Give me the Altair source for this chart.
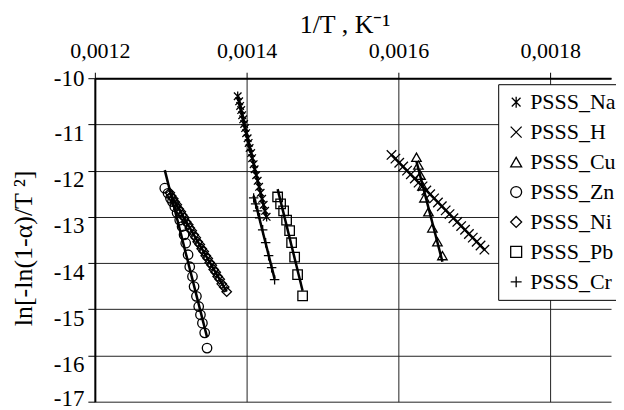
import altair as alt
import pandas as pd

series_order = ["PSSS_Na", "PSSS_H", "PSSS_Cu", "PSSS_Zn", "PSSS_Ni", "PSSS_Pb", "PSSS_Cr"]
shape_paths = [
    "M-0.8,-0.8L0.8,0.8M-0.8,0.8L0.8,-0.8M0,-1L0,1",
    "M-1,-1L1,1M-1,1L1,-1",
    "triangle-up",
    "circle",
    "diamond",
    "square",
    "M-1,0L1,0M0,-1L0,1",
]

na_x = [0.0013882, 0.0013901, 0.0013914, 0.0013928, 0.0013941, 0.0013954, 0.0013967, 0.0013980,
        0.0013993, 0.0014013, 0.0014026, 0.0014039, 0.0014059, 0.0014072, 0.0014092, 0.0014105,
        0.0014125, 0.0014145, 0.0014164, 0.0014184, 0.0014204, 0.0014224, 0.0014243, 0.0014263]
na_y = [-10.39, -10.50, -10.60, -10.69, -10.80, -10.89, -10.99, -11.08,
        -11.19, -11.30, -11.40, -11.51, -11.62, -11.73, -11.86, -11.97,
        -12.10, -12.22, -12.35, -12.48, -12.61, -12.74, -12.87, -13.00]

h_x = [0.0015908, 0.0015960, 0.0016010, 0.0016062, 0.0016113, 0.0016163, 0.0016215, 0.0016265,
       0.0016317, 0.0016367, 0.0016418, 0.0016469, 0.0016520, 0.0016571, 0.0016622, 0.0016673,
       0.0016724, 0.0016775, 0.0016826, 0.0016877, 0.0016928, 0.0016979, 0.0017030, 0.0017081,
       0.0017132]
h_y = [-11.66, -11.74, -11.83, -11.91, -12.00, -12.08, -12.17, -12.26,
       -12.34, -12.43, -12.51, -12.60, -12.69, -12.77, -12.86, -12.94,
       -13.03, -13.11, -13.20, -13.28, -13.37, -13.45, -13.54, -13.62,
       -13.71]

cu_x = [0.0016237, 0.0016263, 0.0016290, 0.0016316, 0.0016342, 0.0016395, 0.0016447, 0.0016513, 0.0016579]
cu_y = [-11.71, -11.88, -12.10, -12.33, -12.59, -12.89, -13.24, -13.54, -13.84]

zn_x = [0.0012921, 0.0012964, 0.0012996, 0.0013022, 0.0013053, 0.0013083, 0.0013118, 0.0013149,
        0.0013175, 0.0013197, 0.0013228, 0.0013250, 0.0013286, 0.0013307, 0.0013338, 0.0013368,
        0.0013391, 0.0013417, 0.0013447, 0.0013478]
zn_y = [-12.38, -12.49, -12.60, -12.67, -12.78, -12.91, -13.07, -13.21,
        -13.39, -13.57, -13.82, -14.08, -14.29, -14.51, -14.72, -14.94,
        -15.12, -15.30, -15.51, -15.84]

ni_x = [0.0012987, 0.0013007, 0.0013033, 0.0013053, 0.0013079, 0.0013105, 0.0013132, 0.0013151,
        0.0013178, 0.0013204, 0.0013230, 0.0013250, 0.0013276, 0.0013303, 0.0013329, 0.0013355,
        0.0013382, 0.0013408, 0.0013434, 0.0013461, 0.0013487, 0.0013513, 0.0013540, 0.0013566,
        0.0013592, 0.0013618, 0.0013645, 0.0013671, 0.0013704, 0.0013737]
ni_y = [-12.48, -12.55, -12.61, -12.68, -12.74, -12.83, -12.89, -12.96,
        -13.02, -13.11, -13.17, -13.24, -13.30, -13.39, -13.45, -13.54,
        -13.60, -13.69, -13.75, -13.84, -13.90, -13.99, -14.05, -14.14,
        -14.20, -14.29, -14.35, -14.45, -14.52, -14.62]

pb_x = [0.0014408, 0.0014447, 0.0014487, 0.0014526, 0.0014566, 0.0014592, 0.0014632, 0.0014671, 0.0014737]
pb_y = [-12.57, -12.72, -12.87, -13.07, -13.30, -13.56, -13.87, -14.25, -14.71]

cr_x = [0.0014092, 0.0014118, 0.0014145, 0.0014171, 0.0014211, 0.0014250, 0.0014289, 0.0014329, 0.0014368]
cr_y = [-12.59, -12.72, -12.87, -13.02, -13.28, -13.56, -13.84, -14.10, -14.36]

x_ticks = [0.0012, 0.0014, 0.0016, 0.0018]
y_ticks = [-17, -16, -15, -14, -13, -12, -11, -10]

rows = []
for name, xs, ys in [
    ("PSSS_Na", na_x, na_y), ("PSSS_H", h_x, h_y), ("PSSS_Cu", cu_x, cu_y),
    ("PSSS_Zn", zn_x, zn_y), ("PSSS_Ni", ni_x, ni_y), ("PSSS_Pb", pb_x, pb_y),
    ("PSSS_Cr", cr_x, cr_y),
]:
    for a, b in zip(xs, ys):
        rows.append({"series": name, "x": a, "y": b})
df = pd.DataFrame(rows)

FONT = "Times New Roman, Liberation Serif, serif"

x_label_offset = {
    "condition": {"test": "datum.value < 0.0013", "value": 5},
    "value": 0,
}
y_label_offset = {
    "condition": [
        {"test": "datum.value < -16.5", "value": -3},
        {"test": "datum.value > -10.5", "value": 0},
    ],
    "value": 9,
}

x_enc = alt.X(
    "x:Q",
    scale=alt.Scale(domain=[0.0012, 0.00188], nice=False, zero=False),
    axis=alt.Axis(
        orient="top", values=x_ticks, title="1/T , K⁻¹",
        labelExpr="replace(format(datum.value, '.4f'), '.', ',')",
        labelFlush=False, labelOffset=x_label_offset,
        titleFontSize=26, titleFontWeight="normal",
        titleX=250, titleY=-46, titleBaseline="alphabetic", titleAlign="center",
        labelFontSize=22, labelPadding=10, tickSize=6,
    ),
)
y_enc = alt.Y(
    "y:Q",
    scale=alt.Scale(domain=[-17, -10], nice=False, zero=False),
    axis=alt.Axis(
        values=y_ticks, title="ln[-ln(1-α)/T ²]",
        labelExpr="'' + datum.value", labelOffset=y_label_offset,
        titleFontSize=26, titleFontWeight="normal",
        titleX=-63, titleY=170, titleBaseline="alphabetic", titleAlign="center", titleAngle=270,
        labelFontSize=23, labelPadding=4, tickSize=7,
    ),
)

points = alt.Chart(df).mark_point(filled=False, color="black", strokeWidth=1.3, size=90, opacity=1).encode(
    x=x_enc,
    y=y_enc,
    shape=alt.Shape(
        "series:N",
        scale=alt.Scale(domain=series_order, range=shape_paths),
        sort=series_order,
        legend=alt.Legend(
            title=None, orient="none", legendX=404, legendY=6,
            fillColor="white", strokeColor="black", padding=7,
            labelFontSize=22, labelFont=FONT, symbolSize=120,
            symbolStrokeColor="black", symbolStrokeWidth=1.3, symbolFillColor="transparent",
            rowPadding=8, labelOffset=3, labelLimit=200,
        ),
    ),
)

lines = alt.Chart(df).transform_regression("x", "y", groupby=["series"]).mark_line(
    color="black", strokeWidth=2.5
).encode(x="x:Q", y="y:Q", detail="series:N")

chart = alt.layer(lines, points).properties(
    width=517, height=324,
    autosize=alt.AutoSizeParams(type="none"),
    padding={"left": 87, "top": 70, "right": 5, "bottom": 8},
).configure(font=FONT).configure_view(stroke=None).configure_axis(
    domainColor="black", domainWidth=2, gridColor="#222", gridWidth=1,
    tickColor="black", tickWidth=1, labelColor="black", titleColor="black",
    labelFont=FONT, titleFont=FONT,
)

chart.save("out.html", embed_options={"renderer": "svg", "actions": False})
